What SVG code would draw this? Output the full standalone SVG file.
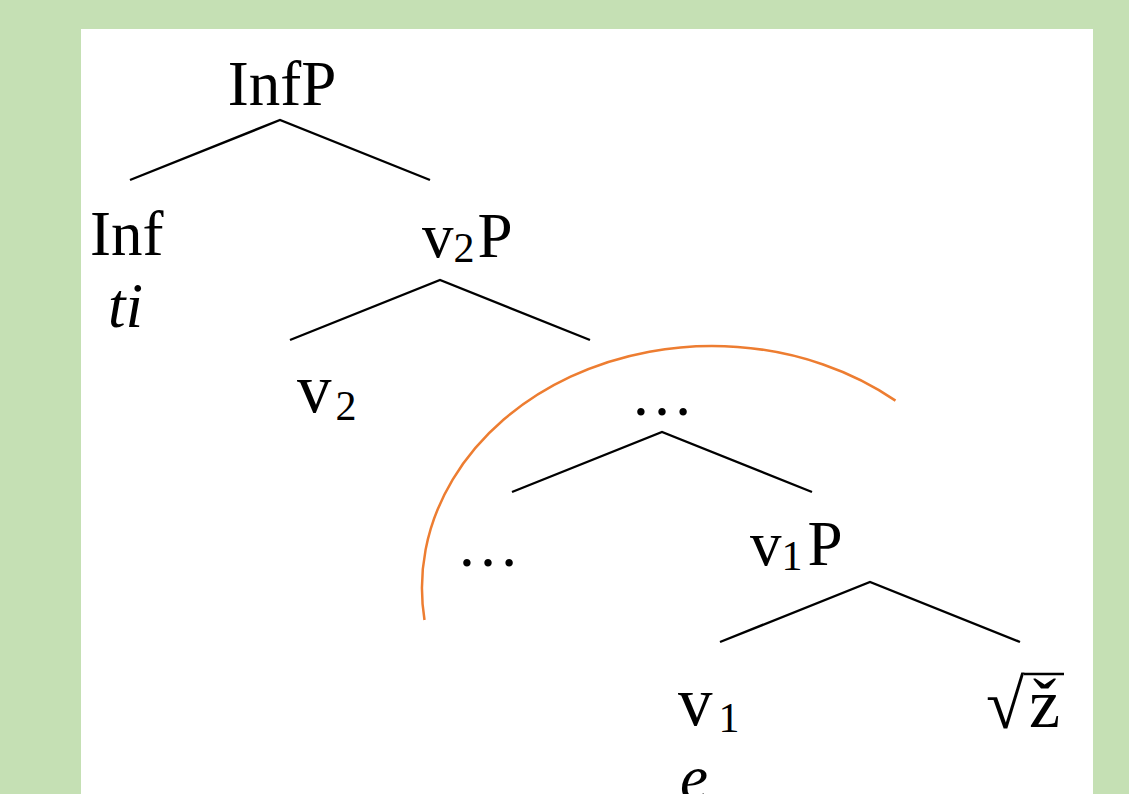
<svg xmlns="http://www.w3.org/2000/svg" width="1129" height="794" viewBox="0 0 1129 794">
<style>
.t{font-family:"Liberation Serif","Times New Roman",serif;font-size:63px;fill:#000}
.i{font-style:italic}
.sub{font-size:42px}
.big{font-size:69px}
.rt{font-size:70px}
.edge{stroke:#000;stroke-width:2.4;fill:none;stroke-linecap:butt}
.bar{stroke:#000;stroke-width:2.4;fill:none}
.arc{stroke:#ED7D31;stroke-width:2.5;fill:none}
</style>
<rect x="0" y="0" width="1129" height="794" fill="#C5E0B4"/>
<rect x="81" y="29" width="1012" height="765" fill="#FFFFFF"/>
<g id="connectors">
<polyline class="edge" points="130,180 280,120 430,180"/>
<polyline class="edge" points="290,340 440,280 590,340"/>
<polyline class="edge" points="512,492 662,432 812,492"/>
<polyline class="edge" points="720,642 870,582 1020,642"/>
</g>
<g id="node-InfP"><text class="t" x="282" y="105" text-anchor="middle">InfP</text></g>
<g id="node-Inf"><text class="t" x="90" y="255">Inf</text><text class="t i" x="108" y="327">ti</text></g>
<g id="node-v2P"><text class="t" x="422" y="257">v<tspan class="sub" dy="5">2</tspan><tspan dy="-5" dx="3">P</tspan></text></g>
<g id="node-v2"><text class="t" x="297" y="412"><tspan class="big">v</tspan><tspan class="sub" dy="8" dx="4">2</tspan></text></g>
<g id="node-dots1"><text class="t" x="662" y="415" text-anchor="middle">…</text></g>
<g id="node-dots2"><text class="t" x="488" y="566" text-anchor="middle">…</text></g>
<g id="node-v1P"><text class="t" x="750" y="565">v<tspan class="sub" dy="5">1</tspan><tspan dy="-5" dx="5">P</tspan></text></g>
<g id="node-v1"><text class="t" x="678" y="725"><tspan class="big">v</tspan><tspan class="sub" dy="7" dx="6">1</tspan></text><text class="t i" x="680" y="799">e</text></g>
<g id="node-root"><text class="t rt" x="986" y="728">√</text><text class="t rt" x="1029" y="727">ž</text><line class="bar" x1="1024" y1="674" x2="1064" y2="674"/></g>
<g id="phase-arc">
<path class="arc" d="M424.5,620 A290,242 0 0 1 895.5,400.6"/>
</g>
</svg>
